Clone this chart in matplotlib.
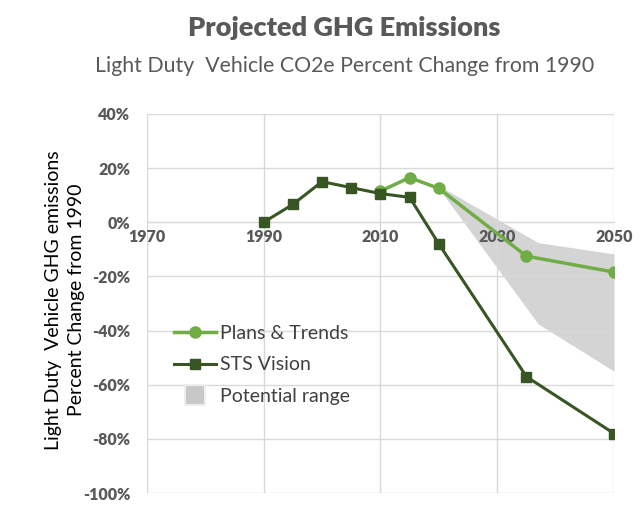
import numpy as np
import matplotlib.pyplot as plt
from matplotlib.ticker import FuncFormatter
from matplotlib.lines import Line2D

plt.rcParams['font.family'] = ['Lato', 'DejaVu Sans']

sts_years = [1990, 1995, 2000, 2005, 2010, 2015, 2020, 2035, 2050]
sts_vals = [0, 6.6, 15, 12.8, 10.6, 9.2, -8, -57, -78]

plans_years = [2010, 2015, 2020, 2035, 2050]
plans_vals = [11.5, 16.5, 12.5, -12.5, -18.4]

range_years = [2015, 2020, 2037, 2050]
range_high = [16.5, 13.5, -7.5, -11.7]
range_low = [16.5, 12.5, -37.5, -55]

x_ticks = [1970, 1990, 2010, 2030, 2050]
y_ticks = [-100, -80, -60, -40, -20, 0, 20, 40]

light = '#70ad47'
dark = '#375623'

fig = plt.figure(figsize=(6.41, 5.18), dpi=100)
ax = fig.add_axes([0.229, 0.048, 0.729, 0.732])

ax.fill_between(range_years, range_low, range_high, color='#d4d4d4', lw=0, zorder=0.2)
l1, = ax.plot(plans_years, plans_vals, color=light, marker='o', ms=8, lw=2.5, zorder=3)
l2, = ax.plot(sts_years, sts_vals, color=dark, marker='s', ms=7.5, lw=2.2, zorder=4)

ax.set_xlim(1970, 2050)
ax.set_ylim(-100, 40)
ax.set_xticks(x_ticks)
ax.set_yticks(y_ticks)
ax.yaxis.set_major_formatter(FuncFormatter(lambda v, p: f'{v:.0f}%'))
ax.grid(color='#d9d9d9', lw=1)
ax.set_axisbelow(True)
for s in ['top', 'right', 'left']:
    ax.spines[s].set_visible(False)
ax.spines['bottom'].set_position(('data', 0))
ax.spines['bottom'].set_color('#d9d9d9')
ax.tick_params(length=0, colors='#595959', labelsize=11.5)
ax.tick_params(axis='x', pad=5)
ax.tick_params(axis='y', pad=12)
for lbl in ax.get_xticklabels() + ax.get_yticklabels():
    lbl.set_fontweight('heavy')

ax.set_ylabel('Light Duty  Vehicle GHG emissions\nPercent Change from 1990', fontsize=14, color='black',
              linespacing=1.45)
ax.yaxis.set_label_coords(-0.132, 0.51)

fig.text(0.537, 0.945, 'Projected GHG Emissions', ha='center', va='center', fontsize=19.5, fontweight='heavy', color='#595959')
fig.text(0.537, 0.873, 'Light Duty  Vehicle CO2e Percent Change from 1990', ha='center', va='center', fontsize=15.3, color='#595959')

patch = Line2D([], [], ls='none', marker='s', ms=15, mfc='#c8c8c8', mec='#eeeeee', mew=1.5)
ax.legend([l1, l2, patch], ['Plans & Trends', 'STS Vision', 'Potential range'], loc='upper left',
          bbox_to_anchor=(0.02, 0.49), frameon=False, fontsize=14, labelcolor='#404040',
          handlelength=2.2, handletextpad=0.2, labelspacing=0.75)

fig.savefig('out.png', dpi=100)
